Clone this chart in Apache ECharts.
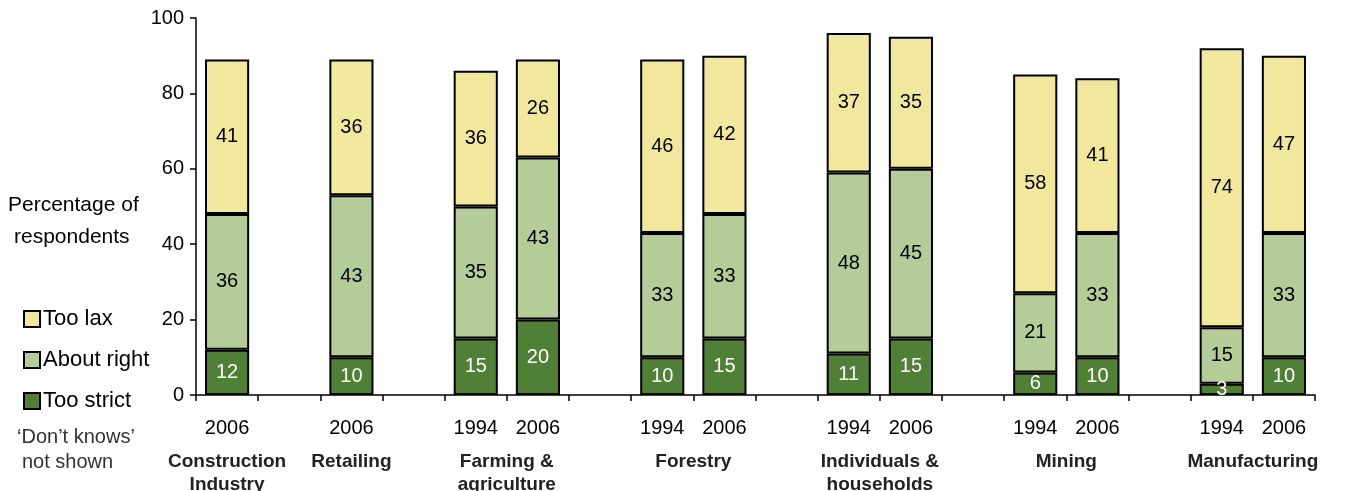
<!DOCTYPE html>
<html>
<head>
<meta charset="utf-8">
<script src="https://cdn.jsdelivr.net/npm/echarts@6/dist/echarts.min.js"></script>
<style>
  html, body { margin: 0; padding: 0; background: #fff; }
  #chart { width: 1370px; height: 491px; }
</style>
</head>
<body>
<div id="chart"></div>
<script>
// Survey year for each column slot ('' marks a spacer column between sectors)
const years = ['2006', '', '2006', '', '1994', '2006', '', '1994', '2006', '', '1994', '2006', '', '1994', '2006', '', '1994', '2006'];

// Percentage of respondents per answer, aligned with the slots above
const tooStrict  = [12, null, 10, null, 15, 20, null, 10, 15, null, 11, 15, null,  6, 10, null,  3, 10];
const aboutRight = [36, null, 43, null, 35, 43, null, 33, 33, null, 48, 45, null, 21, 33, null, 15, 33];
const tooLax     = [41, null, 36, null, 36, 26, null, 46, 42, null, 37, 35, null, 58, 41, null, 74, 47];

// Sectors and the slot indexes their columns occupy
const sectors = ['Construction\nIndustry', 'Retailing', 'Farming &\nagriculture', 'Forestry', 'Individuals &\nhouseholds', 'Mining', 'Manufacturing'];
const sectorSlots = [[0], [2], [4, 5], [7, 8], [10, 11], [13, 14], [16, 17]];

const yTicks = [0, 20, 40, 60, 80, 100];

const FONT = '"Liberation Sans", Arial, sans-serif';
const COLORS = { lax: '#f2e89d', right: '#b3cc98', strict: '#507f36' };

// Centre of each sector on a 0..N scale laid over the category bands
const sectorCentre = sectorSlots.map(s => (s[0] + s[s.length - 1]) / 2 + 0.5);

function barSeries(name, data, color, labelColor) {
  return {
    name: name,
    type: 'bar',
    stack: 'total',
    barWidth: '71%',
    data: data,
    itemStyle: { color: color, borderColor: '#000', borderWidth: 2 },
    label: {
      show: true,
      position: 'inside',
      color: labelColor,
      fontSize: 20,
      fontFamily: FONT,
      formatter: p => p.value
    },
    emphasis: { disabled: true }
  };
}

const chart = echarts.init(document.getElementById('chart'), null, { renderer: 'canvas' });

chart.setOption({
  animation: false,
  backgroundColor: '#fff',
  textStyle: { fontFamily: FONT },
  grid: { left: 196, right: 55, top: 18, bottom: 96, containLabel: false, outerBoundsMode: 'none' },
  legend: {
    orient: 'vertical',
    left: 18,
    top: 303,
    itemWidth: 16,
    itemHeight: 16,
    itemGap: 19,
    icon: 'rect',
    data: ['Too lax', 'About right', 'Too strict'],
    textStyle: { fontSize: 22, color: '#000', fontFamily: FONT, padding: [0, 0, 0, -2] }
  },
  xAxis: [
    {
      type: 'category',
      data: years.map((y, i) => String(i)),
      axisLine: { lineStyle: { color: '#000', width: 1.5 } },
      axisTick: { show: true, interval: 0, length: 6, lineStyle: { color: '#000', width: 1.5 } },
      axisLabel: {
        interval: 0,
        margin: 23,
        fontSize: 20,
        color: '#000',
        fontFamily: FONT,
        formatter: (v, i) => years[i]
      }
    },
    {
      // sector names, centred under their columns
      type: 'value',
      min: 0,
      max: years.length,
      interval: 0.5,
      position: 'bottom',
      axisLine: { show: false },
      axisTick: { show: false },
      splitLine: { show: false },
      axisLabel: {
        show: true,
        margin: 55,
        fontSize: 19,
        fontWeight: 'bold',
        lineHeight: 23,
        color: '#222',
        fontFamily: FONT,
        showMinLabel: true,
        showMaxLabel: true,
        formatter: v => {
          const k = sectorCentre.findIndex(c => Math.abs(c - v) < 1e-6);
          return k >= 0 ? sectors[k] : '';
        }
      }
    }
  ],
  yAxis: {
    type: 'value',
    min: yTicks[0],
    max: yTicks[yTicks.length - 1],
    interval: yTicks[1] - yTicks[0],
    axisLine: { show: true, lineStyle: { color: '#000', width: 1.5 } },
    axisTick: { show: true, length: 6, lineStyle: { color: '#000', width: 1.5 } },
    splitLine: { show: false },
    axisLabel: { fontSize: 20, color: '#000', margin: 12, fontFamily: FONT }
  },
  series: [
    barSeries('Too strict', tooStrict, COLORS.strict, '#fff'),
    barSeries('About right', aboutRight, COLORS.right, '#000'),
    barSeries('Too lax', tooLax, COLORS.lax, '#000')
  ],
  graphic: [
    { type: 'text', left: 8, top: 195, style: { text: 'Percentage of', font: '21px ' + FONT, fill: '#000' } },
    { type: 'text', left: 14, top: 227, style: { text: 'respondents', font: '21px ' + FONT, fill: '#000' } },
    { type: 'text', left: 17, top: 427, style: { text: '\u2018Don\u2019t knows\u2019', font: '20px ' + FONT, fill: '#333' } },
    { type: 'text', left: 22, top: 452, style: { text: 'not shown', font: '20px ' + FONT, fill: '#333' } }
  ]
});
</script>
</body>
</html>
